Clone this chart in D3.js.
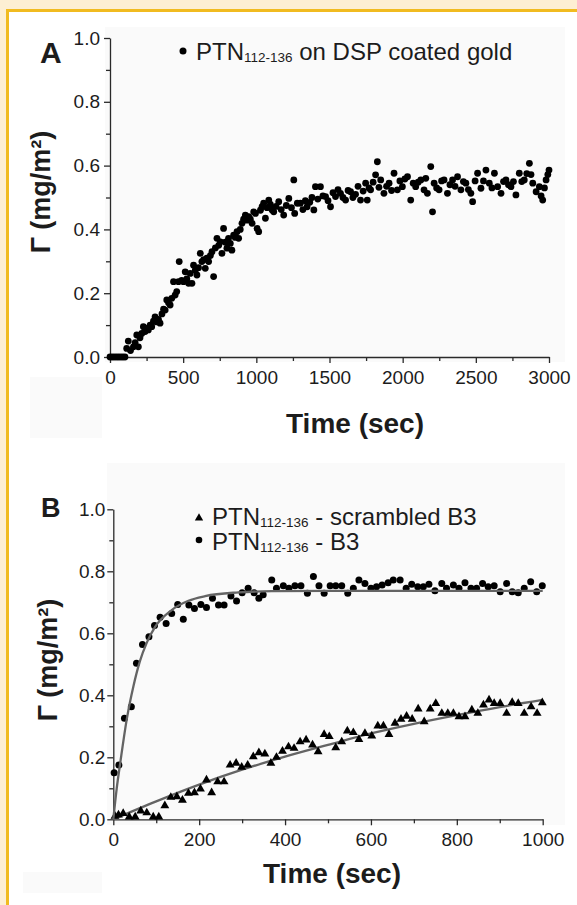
<!DOCTYPE html>
<html>
<head>
<meta charset="utf-8">
<script src="https://cdn.jsdelivr.net/npm/d3@7"></script>
<style>
  html, body { margin: 0; padding: 0; background: #fdefd3; }
  svg { display: block; font-family: "Liberation Sans", Arial, Helvetica, sans-serif; }
</style>
</head>
<body>
<svg id="chart" width="577" height="905"></svg>
<script>
// Panel A : PTN112-136 sur or recouvert de DSP  [temps (s), Γ (mg/m²)]
const dspGold = [
  [0,0],[17,0],[34,0],[51,0],[68,0],[85,0],[102,0],[114,0.027],[125,0.05],[140,0.02],
  [160,0.032],[172,0.045],[183,0.069],[194,0.032],[205,0.06],[217,0.074],[228,0.095],[240,0.08],
  [251,0.09],[262,0.085],[274,0.1],[285,0.095],[297,0.112],[308,0.126],[320,0.11],[331,0.118],
  [342,0.106],[355,0.135],[366,0.15],[377,0.147],[388,0.179],[400,0.17],[411,0.163],[422,0.184],
  [434,0.236],[445,0.194],[456,0.205],[468,0.236],[473,0.299],[490,0.24],[502,0.236],[514,0.267],
  [525,0.245],[537,0.231],[548,0.262],[560,0.231],[571,0.288],[583,0.272],[594,0.257],[605,0.28],
  [617,0.325],[628,0.299],[640,0.305],[651,0.278],[662,0.31],[674,0.299],[686,0.318],[697,0.33],
  [708,0.252],[720,0.342],[731,0.372],[743,0.35],[754,0.361],[765,0.325],[776,0.403],[788,0.36],
  [799,0.341],[810,0.372],[822,0.356],[833,0.335],[845,0.382],[856,0.375],[868,0.393],[879,0.372],
  [890,0.4],[902,0.419],[913,0.432],[925,0.445],[936,0.429],[948,0.44],[959,0.432],[971,0.419],
  [982,0.455],[994,0.45],[1005,0.403],[1016,0.393],[1028,0.46],[1039,0.471],[1050,0.482],[1062,0.435],
  [1073,0.468],[1085,0.492],[1096,0.478],[1108,0.461],[1119,0.455],[1135,0.472],[1153,0.487],[1170,0.462],
  [1187,0.445],[1205,0.475],[1222,0.497],[1240,0.468],[1256,0.555],[1262,0.45],[1280,0.482],[1301,0.482],
  [1318,0.462],[1335,0.49],[1347,0.471],[1365,0.485],[1380,0.5],[1393,0.461],[1404,0.534],[1420,0.495],
  [1438,0.534],[1455,0.505],[1473,0.503],[1490,0.49],[1507,0.471],[1524,0.515],[1541,0.503],[1558,0.525],
  [1575,0.513],[1592,0.5],[1610,0.492],[1627,0.522],[1644,0.518],[1660,0.5],[1678,0.51],[1695,0.535],
  [1712,0.492],[1730,0.52],[1747,0.545],[1758,0.492],[1770,0.53],[1781,0.524],[1798,0.548],[1815,0.571],
  [1827,0.612],[1838,0.532],[1850,0.555],[1872,0.513],[1890,0.535],[1907,0.545],[1924,0.522],[1941,0.576],
  [1964,0.524],[1981,0.552],[1998,0.534],[2015,0.558],[2033,0.565],[2055,0.492],[2072,0.545],[2089,0.534],
  [2106,0.548],[2124,0.555],[2146,0.524],[2158,0.56],[2169,0.513],[2192,0.597],[2204,0.455],[2215,0.545],
  [2232,0.53],[2249,0.524],[2266,0.552],[2283,0.555],[2306,0.513],[2323,0.54],[2341,0.555],[2358,0.535],
  [2375,0.565],[2398,0.524],[2415,0.55],[2432,0.545],[2449,0.525],[2466,0.513],[2478,0.487],[2495,0.552],
  [2512,0.576],[2535,0.529],[2552,0.552],[2569,0.586],[2592,0.545],[2610,0.53],[2627,0.576],[2649,0.534],
  [2672,0.513],[2689,0.55],[2706,0.555],[2723,0.54],[2740,0.534],[2757,0.55],[2774,0.508],[2797,0.576],
  [2814,0.55],[2831,0.555],[2848,0.575],[2866,0.607],[2877,0.572],[2889,0.545],[2912,0.518],[2934,0.534],
  [2946,0.505],[2957,0.492],[2969,0.53],[2980,0.555],[2992,0.572],[3000,0.586]
];

// Panel B : PTN112-136 - B3 (cercles)
const b3 = [
  [2,0.15],[13,0.175],[26,0.326],[42,0.363],[54,0.503],[68,0.564],[83,0.589],[96,0.625],[109,0.652],
  [123,0.632],[136,0.664],[150,0.693],[163,0.645],[176,0.691],[189,0.68],[204,0.693],[217,0.683],
  [231,0.713],[245,0.691],[258,0.691],[274,0.72],[287,0.704],[300,0.731],[314,0.745],[328,0.731],
  [339,0.713],[349,0.724],[369,0.772],[380,0.745],[396,0.753],[409,0.745],[423,0.753],[437,0.753],
  [452,0.729],[466,0.783],[479,0.753],[491,0.729],[505,0.753],[518,0.753],[532,0.753],[546,0.729],
  [559,0.745],[572,0.772],[586,0.761],[600,0.745],[613,0.75],[626,0.756],[640,0.763],[652,0.772],
  [668,0.772],[682,0.745],[695,0.758],[709,0.75],[722,0.75],[735,0.758],[749,0.737],[765,0.761],
  [776,0.745],[792,0.756],[805,0.745],[819,0.763],[833,0.745],[846,0.745],[860,0.761],[873,0.75],
  [887,0.753],[901,0.734],[916,0.761],[929,0.734],[943,0.731],[957,0.745],[972,0.766],[986,0.734],
  [999,0.753]
];

// Panel B : PTN112-136 - scrambled B3 (triangles)
const scrambledB3 = [
  [4,0.01],[12,0.014],[23,0.019],[37,0.008],[51,0.008],[64,0.027],[78,0.021],[93,0.008],[106,0.008],
  [120,0.044],[134,0.071],[148,0.073],[161,0.062],[175,0.084],[189,0.086],[203,0.098],[217,0.127],
  [229,0.086],[243,0.121],[258,0.121],[272,0.175],[286,0.181],[299,0.168],[313,0.175],[326,0.202],
  [339,0.215],[353,0.211],[367,0.181],[380,0.2],[394,0.22],[408,0.234],[421,0.229],[435,0.25],
  [449,0.256],[464,0.24],[477,0.218],[491,0.274],[503,0.267],[518,0.231],[532,0.25],[545,0.285],
  [559,0.28],[572,0.258],[586,0.277],[602,0.269],[616,0.301],[629,0.301],[642,0.274],[656,0.31],
  [670,0.323],[683,0.333],[696,0.323],[710,0.356],[724,0.315],[738,0.356],[751,0.374],[765,0.342],
  [779,0.342],[792,0.342],[805,0.331],[819,0.331],[835,0.353],[849,0.342],[862,0.369],[875,0.385],
  [887,0.374],[901,0.374],[916,0.342],[929,0.377],[943,0.374],[957,0.342],[973,0.363],[987,0.342],
  [999,0.376]
];

// Courbes d'ajustement
const fitB3 = [
  [0,0],[8,0.1],[17,0.19],[31,0.32],[47,0.43],[62,0.51],[78,0.57],[97,0.62],[136,0.675],
  [175,0.705],[214,0.72],[292,0.732],[369,0.736],[500,0.737],[1000,0.737]
];
const fitScrambled = [
  [0,0],[100,0.058],[200,0.112],[300,0.16],[400,0.202],[500,0.24],[600,0.277],
  [700,0.308],[800,0.336],[900,0.362],[1000,0.385]
];

// Graduations
const yTicks = [0, 0.2, 0.4, 0.6, 0.8, 1.0];
const yMinor = [0.1, 0.3, 0.5, 0.7, 0.9];
const xTicksA = [0, 500, 1000, 1500, 2000, 2500, 3000];
const xMinorA = [250, 750, 1250, 1750, 2250, 2750];
const xTicksB = [0, 200, 400, 600, 800, 1000];
const xMinorB = [100, 300, 500, 700, 900];

const ink = "#1c1c1c";
const fitColor = "#646464";
const svg = d3.select("#chart");

// Cadre
svg.append("rect").attr("x", 9).attr("y", 12).attr("width", 568).attr("height", 893).attr("fill", "#ffffff");
svg.append("path").attr("d", "M7.5,905V10.5H577").attr("fill", "none").attr("stroke", "#f1bb20").attr("stroke-width", 3);

// Zones légèrement grises (fond de l'image d'origine)
[[105, 27, 460, 335], [30, 377, 72, 61], [107, 463, 458, 362], [23, 872, 79, 21]].forEach((r) => {
  svg.append("rect").attr("x", r[0]).attr("y", r[1]).attr("width", r[2]).attr("height", r[3]).attr("fill", "#fafafa");
});

function drawAxes(x, y, opt) {
  const g = svg.append("g");
  // Axe Y
  g.append("g")
    .attr("transform", `translate(${x.range()[0]},0)`)
    .call(d3.axisLeft(y).tickValues(yMinor).tickSize(4).tickSizeOuter(0).tickFormat(""))
    .call((a) => a.select(".domain").remove());
  const ya = g.append("g")
    .attr("transform", `translate(${x.range()[0]},0)`)
    .call(d3.axisLeft(y).tickValues(yTicks).tickSize(6).tickSizeOuter(0).tickPadding(opt.yPad).tickFormat(d3.format(".1f")));
  ya.attr("font-size", 19).attr("font-family", null);
  // Axe X
  g.append("g")
    .attr("transform", `translate(0,${y.range()[0]})`)
    .call(d3.axisBottom(x).tickValues(opt.xMinor).tickSize(4).tickSizeOuter(0).tickFormat(""))
    .call((a) => a.select(".domain").remove());
  const xa = g.append("g")
    .attr("transform", `translate(0,${y.range()[0]})`)
    .call(d3.axisBottom(x).tickValues(opt.xTicks).tickSize(6).tickSizeOuter(0).tickPadding(opt.xPad).tickFormat(d3.format("d")));
  xa.attr("font-size", 19).attr("font-family", null);
  g.selectAll("path, line").attr("stroke", "#2a2a2a").attr("stroke-width", 1.3);
  g.selectAll("text").attr("fill", ink);

  // Titres
  svg.append("text")
    .attr("transform", `translate(${opt.yTitle[0]},${opt.yTitle[1]}) rotate(-90)`)
    .attr("text-anchor", "middle").attr("font-size", 27).attr("font-weight", "bold").attr("fill", ink)
    .text("Γ (mg/m²)");
  svg.append("text")
    .attr("x", opt.xTitle[0]).attr("y", opt.xTitle[1])
    .attr("text-anchor", "middle").attr("font-size", 28).attr("font-weight", "bold").attr("fill", ink)
    .text("Time (sec)");
  svg.append("text")
    .attr("x", opt.letter[0]).attr("y", opt.letter[1])
    .attr("font-size", opt.letter[2]).attr("font-weight", "bold").attr("fill", ink)
    .text(opt.letter[3]);
}

function legendLabel(xp, yp, size, rest) {
  const t = svg.append("text").attr("x", xp).attr("y", yp).attr("font-size", size).attr("fill", ink);
  t.append("tspan").text("PTN");
  t.append("tspan").attr("font-size", 13.5).attr("dy", 2.2).text("112-136");
  t.append("tspan").attr("dy", -2.2).text(rest);
}

// ---------- Panel A ----------
const xA = d3.scaleLinear().domain([0, 3000]).range([110, 549]);
const yA = d3.scaleLinear().domain([0, 1]).range([357, 38]);

drawAxes(xA, yA, {
  xTicks: xTicksA, xMinor: xMinorA, yPad: 4, xPad: 7.5,
  yTitle: [50, 192], xTitle: [355, 433], letter: [40, 63, 30, "A"]
});

svg.append("g").selectAll("circle")
  .data(dspGold).enter().append("circle")
  .attr("cx", (d) => xA(d[0])).attr("cy", (d) => yA(d[1]))
  .attr("r", 3.4).attr("fill", "#000");

svg.append("circle").attr("cx", 183).attr("cy", 51).attr("r", 3.5).attr("fill", "#000");
legendLabel(196, 60, 24, " on DSP coated gold");

// ---------- Panel B ----------
const xB = d3.scaleLinear().domain([0, 1000]).range([113.3, 542.7]);
const yB = d3.scaleLinear().domain([0, 1]).range([819.3, 509.3]);

drawAxes(xB, yB, {
  xTicks: xTicksB, xMinor: xMinorB, yPad: 2, xPad: 7.2,
  yTitle: [57, 660], xTitle: [332, 883], letter: [41, 517, 27, "B"]
});

const line = d3.line().x((d) => xB(d[0])).y((d) => yB(d[1])).curve(d3.curveMonotoneX);

svg.append("path").datum(fitScrambled).attr("d", line)
  .attr("fill", "none").attr("stroke", fitColor).attr("stroke-width", 2.3);

const tri = d3.symbol(d3.symbolTriangle).size(34);
svg.append("g").selectAll("path")
  .data(scrambledB3).enter().append("path")
  .attr("d", tri)
  .attr("transform", (d) => `translate(${xB(d[0])},${yB(d[1])})`)
  .attr("fill", "#000");

svg.append("g").selectAll("circle")
  .data(b3).enter().append("circle")
  .attr("cx", (d) => xB(d[0])).attr("cy", (d) => yB(d[1]))
  .attr("r", 3.5).attr("fill", "#000");

svg.append("path").datum(fitB3).attr("d", line)
  .attr("fill", "none").attr("stroke", fitColor).attr("stroke-width", 2.3);

// Légende B
svg.append("path").attr("d", d3.symbol(d3.symbolTriangle).size(30)).attr("transform", "translate(199,518)").attr("fill", "#000");
legendLabel(212, 525, 24, " - scrambled B3");
svg.append("circle").attr("cx", 199).attr("cy", 540).attr("r", 3.3).attr("fill", "#000");
legendLabel(212, 550, 24, " - B3");
</script>
</body>
</html>
